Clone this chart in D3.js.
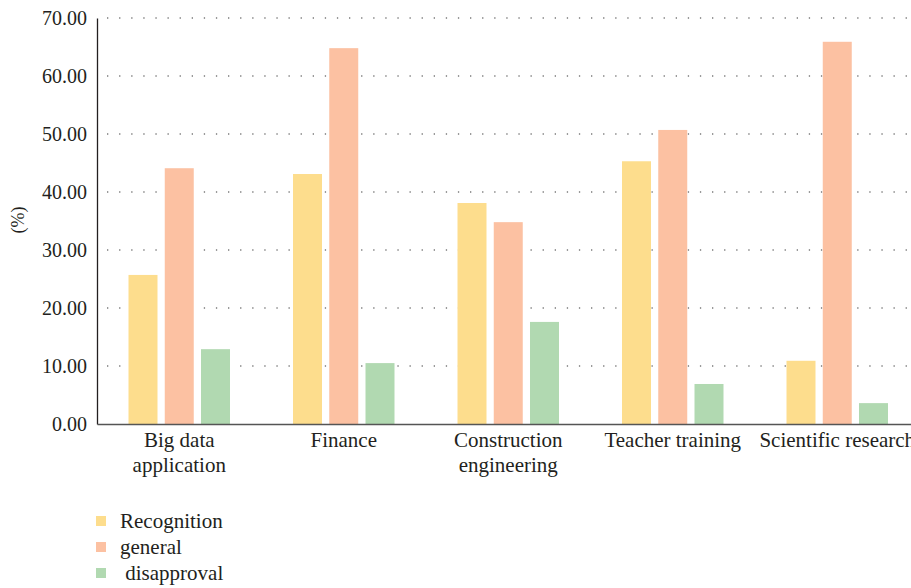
<!DOCTYPE html>
<html>
<head>
<meta charset="utf-8">
<script src="https://cdn.jsdelivr.net/npm/d3@7"></script>
<style>
  body { margin: 0; background: #fff; }
</style>
</head>
<body>
<svg id="chart" width="911" height="588"></svg>
<script>
// categories (line breaks as in the picture)
var categories = ["Big data\napplication", "Finance", "Construction\nengineering", "Teacher training", "Scientific research"];
var seriesNames = ["Recognition", "general", " disapproval"];
var recognition = [25.7, 43.1, 38.1, 45.3, 10.9];
var general = [44.1, 64.8, 34.8, 50.7, 65.9];
var disapproval = [12.9, 10.5, 17.6, 6.9, 3.6];
var yTicks = [0, 10, 20, 30, 40, 50, 60, 70];

var colors = ["#fddd8d", "#fcc1a2", "#b1d9b1"];
var FONT = "'Liberation Serif', 'Times New Roman', serif";

function drawChart(){
  var svg = d3.select("#chart");
  var margin = {top: 18, left: 97, bottom: 424};
  var series = [recognition, general, disapproval];

  var data = categories.map((c, i) => ({cat: c, values: series.map(s => s[i])}));

  var x0 = d3.scaleBand()
    .domain(categories)
    .range([margin.left, margin.left + 822.5])
    .paddingInner(0.383)
    .paddingOuter(0.1915);

  var x1 = d3.scaleBand()
    .domain(d3.range(series.length))
    .range([0, x0.bandwidth()])
    .paddingInner(0.2)
    .paddingOuter(0);

  var y = d3.scaleLinear()
    .domain([0, 70])
    .range([margin.bottom, margin.top]);

  // dotted grid
  svg.append("g")
    .selectAll("line")
    .data(yTicks.slice(1))
    .join("line")
      .attr("x1", margin.left + 10)
      .attr("x2", 911)
      .attr("y1", d => y(d))
      .attr("y2", d => y(d))
      .attr("stroke", "#7a7a7a")
      .attr("stroke-width", 1.3)
      .attr("stroke-dasharray", "1.3,10.8");

  // bars
  svg.append("g")
    .selectAll("g")
    .data(data)
    .join("g")
      .attr("transform", d => `translate(${x0(d.cat)},0)`)
    .selectAll("rect")
    .data(d => d.values.map((v, k) => ({k, v})))
    .join("rect")
      .attr("x", d => x1(d.k))
      .attr("y", d => y(d.v))
      .attr("width", x1.bandwidth())
      .attr("height", d => y(0) - y(d.v))
      .attr("fill", d => colors[d.k]);

  // y axis
  var yAxis = svg.append("g")
    .attr("transform", `translate(${margin.left},0)`)
    .call(d3.axisLeft(y).tickValues(yTicks).tickFormat(d3.format(".2f")).tickSize(0).tickPadding(10))
    .call(g => g.select(".domain").attr("stroke", "#231f20").attr("stroke-width", 1.3));
  yAxis.selectAll("text")
    .style("font-family", FONT)
    .style("font-size", "20px")
    .attr("fill", "#231f20");

  // x axis
  var xAxis = svg.append("g")
    .attr("transform", `translate(0,${margin.bottom})`)
    .call(d3.axisBottom(x0).tickSize(0).tickSizeOuter(0))
    .call(g => g.select(".domain").attr("stroke", "#555").attr("stroke-width", 1.5));
  xAxis.selectAll(".tick text").each(function(d){
    var t = d3.select(this).text("")
      .style("font-family", FONT).style("font-size", "21px")
      .attr("fill", "#231f20")
      .attr("y", 0).attr("dy", null);
    d.split("\n").forEach((line, i) => {
      t.append("tspan").attr("x", 0).attr("y", 23 + i * 25).text(line);
    });
  });

  // y label
  svg.append("text")
    .attr("transform", "translate(24,220) rotate(-90)")
    .attr("text-anchor", "middle")
    .style("font-family", FONT)
    .style("font-size", "18px")
    .attr("fill", "#231f20")
    .text("(%)");

  // legend
  var legend = svg.append("g")
    .attr("transform", "translate(96,521)")
    .selectAll("g")
    .data(seriesNames)
    .join("g")
      .attr("transform", (d, i) => `translate(0,${i * 26})`);
  legend.append("rect")
    .attr("x", 0).attr("y", -5)
    .attr("width", 10).attr("height", 10)
    .attr("fill", (d, i) => colors[i]);
  legend.append("text")
    .attr("x", 24).attr("y", 0).attr("dy", "0.35em")
    .style("font-family", FONT)
    .style("font-size", "21px")
    .style("white-space", "pre")
    .attr("fill", "#231f20")
    .text(d => d);
}

drawChart();
</script>
</body>
</html>
